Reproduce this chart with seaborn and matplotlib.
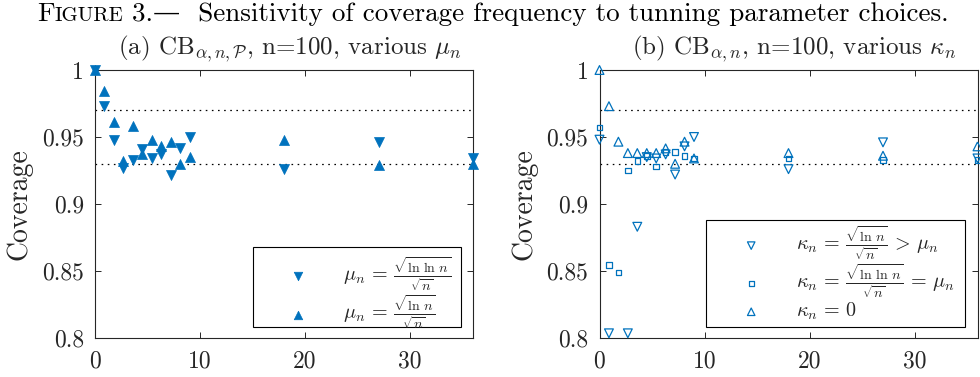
import numpy as np
import matplotlib
matplotlib.use('Agg')
import matplotlib.pyplot as plt
import seaborn as sns
from matplotlib.patches import Rectangle
from matplotlib.ticker import FuncFormatter

# tuning parameter grid shared by both panels
tuning = [0, 0.9, 1.8, 2.7, 3.6, 4.5, 5.4, 6.3, 7.2, 8.1, 9, 18, 27, 36]

# panel (a): CB_{alpha,n,P}, coverage for the two mu_n choices
cov_a_lnln = [1.0, 0.973, 0.948, 0.927, 0.933, 0.941, 0.934, 0.937, 0.922, 0.942, 0.950, 0.926, 0.946, 0.934]
cov_a_ln = [1.0, 0.984, 0.961, 0.932, 0.958, 0.937, 0.948, 0.943, 0.946, 0.930, 0.935, 0.948, 0.929, 0.930]

# panel (b): CB_{alpha,n}, coverage for the three kappa_n choices (nan = below axis)
cov_b_ln = [0.948, 0.8035, np.nan, 0.8035, 0.883, 0.935, 0.934, 0.937, 0.922, 0.943, 0.950, 0.926, 0.946, 0.934]
cov_b_lnln = [0.957, 0.8545, 0.849, 0.925, 0.932, 0.936, 0.928, 0.939, 0.939, 0.936, 0.934, 0.934, 0.933, 0.933]
cov_b_zero = [1.0, 0.973, 0.9465, 0.938, 0.938, 0.938, 0.938, 0.9415, 0.930, 0.9465, 0.934, 0.938, 0.936, 0.943]

nominal_band = [0.93, 0.97]
yticks = [0.8, 0.85, 0.9, 0.95, 1]
xticks = [0, 10, 20, 30]

BLUE = '#0072BD'
AXCOL = '#262626'

sns.set_style('ticks')
plt.rcParams['font.family'] = ['cmr10', 'DejaVu Serif']
plt.rcParams['mathtext.fontset'] = 'cm'
plt.rcParams['axes.formatter.use_mathtext'] = True
plt.rcParams['axes.unicode_minus'] = False

W, H = 980, 377
fig = plt.figure(figsize=(W / 100, H / 100), dpi=100)
ax1 = fig.add_axes([95 / W, 1 - 338 / H, 378 / W, 268 / H])
ax2 = fig.add_axes([599.5 / W, 1 - 338 / H, 378 / W, 268 / H])


def style_axes(ax):
    ax.set_xlim(0, 36)
    ax.set_ylim(0.8, 1)
    ax.set_xticks(xticks)
    ax.set_yticks(yticks)
    ax.yaxis.set_major_formatter(FuncFormatter(lambda v, p: f'{v:g}'))
    ax.xaxis.set_major_formatter(FuncFormatter(lambda v, p: f'{v:g}'))
    ax.tick_params(direction='in', top=True, right=True, length=4, width=0.7,
                   color=AXCOL, labelsize=17, labelcolor=AXCOL)
    ax.tick_params(axis='x', pad=9)
    ax.tick_params(axis='y', pad=8)
    for s in ax.spines.values():
        s.set_visible(True)
        s.set_color(AXCOL)
        s.set_linewidth(0.8)
    for yv in nominal_band:
        ax.axhline(yv, color='black', lw=0.9, linestyle=(0, (1.3, 3.6)), zorder=1)


style_axes(ax1)
style_axes(ax2)

# (a) filled triangles
sns.scatterplot(x=tuning, y=cov_a_lnln, ax=ax1, marker='v', s=52, color=BLUE,
                edgecolor=BLUE, linewidth=0.5, clip_on=False, zorder=3,
                label=r'$\mu_n\,=\,\frac{\sqrt{\ln\,\ln\,n}}{\sqrt{n}}$')
sns.scatterplot(x=tuning, y=cov_a_ln, ax=ax1, marker='^', s=52, color=BLUE,
                edgecolor=BLUE, linewidth=0.5, clip_on=False, zorder=3,
                label=r'$\mu_n\,=\,\frac{\sqrt{\ln\,n}}{\sqrt{n}}$')

# (b) hollow markers
sns.scatterplot(x=tuning, y=cov_b_ln, ax=ax2, marker='v', s=40, facecolors='none',
                edgecolor=BLUE, linewidth=0.9, clip_on=False, zorder=3,
                label=r'$\kappa_n\,=\,\frac{\sqrt{\ln\,n}}{\sqrt{n}}\,>\,\mu_n$')
sns.scatterplot(x=tuning, y=cov_b_lnln, ax=ax2, marker='s', s=16, facecolors='none',
                edgecolor=BLUE, linewidth=0.9, clip_on=False, zorder=3,
                label=r'$\kappa_n\,=\,\frac{\sqrt{\ln\,\ln\,n}}{\sqrt{n}}\,=\,\mu_n$')
sns.scatterplot(x=tuning, y=cov_b_zero, ax=ax2, marker='^', s=40, facecolors='none',
                edgecolor=BLUE, linewidth=0.9, clip_on=False, zorder=3,
                label=r'$\kappa_n\,=\,0$')

# legend boxes (x0, x1, y0, y1 in axes fraction) and vertical anchor of entries
for ax, (x0, x1, y0, y1), ya in [(ax1, (0.418, 0.968, 0.041, 0.34), 0.165),
                                 (ax2, (0.282, 0.967, 0.041, 0.44), 0.24)]:
    ax.add_patch(Rectangle((x0, y0), x1 - x0, y1 - y0, transform=ax.transAxes,
                           facecolor='white', edgecolor='black', lw=0.8,
                           zorder=4, clip_on=False))
    leg = ax.legend(loc='center left', bbox_to_anchor=(x0, ya),
                    borderaxespad=0, fontsize=14.5, frameon=False,
                    handlelength=3.98, handletextpad=0.25,
                    borderpad=0.25, labelspacing=0.0, markerscale=0.85)
    ax.set_xlabel('')
    ax.set_ylabel('Coverage', fontsize=20, color=AXCOL, va='center')
    ax.yaxis.set_label_coords(-0.2, 0.5)

ax1.text(0.515, 1.06, r'(a) CB$_{\alpha,n,\mathcal{P}}$, n=100, various $\mu_n$',
         transform=ax1.transAxes, ha='center', va='baseline', fontsize=18)
ax2.text(0.515, 1.06, r'(b) CB$_{\alpha,n}$, n=100, various $\kappa_n$',
         transform=ax2.transAxes, ha='center', va='baseline', fontsize=18)

# figure caption with small caps "Figure"
fig.canvas.draw()
renderer = fig.canvas.get_renderer()
parts = [('F', 19.5), ('IGURE', 15), (' 3.\u2014  Sensitivity of coverage frequency to tunning parameter choices.', 19.5)]
x_px, base = 37, H - 21
for txt, fs in parts:
    t = fig.text(x_px / W, base / H, txt, fontsize=fs, va='baseline', ha='left', color='black')
    x_px = t.get_window_extent(renderer).x1

fig.savefig('out.png', dpi=100)
